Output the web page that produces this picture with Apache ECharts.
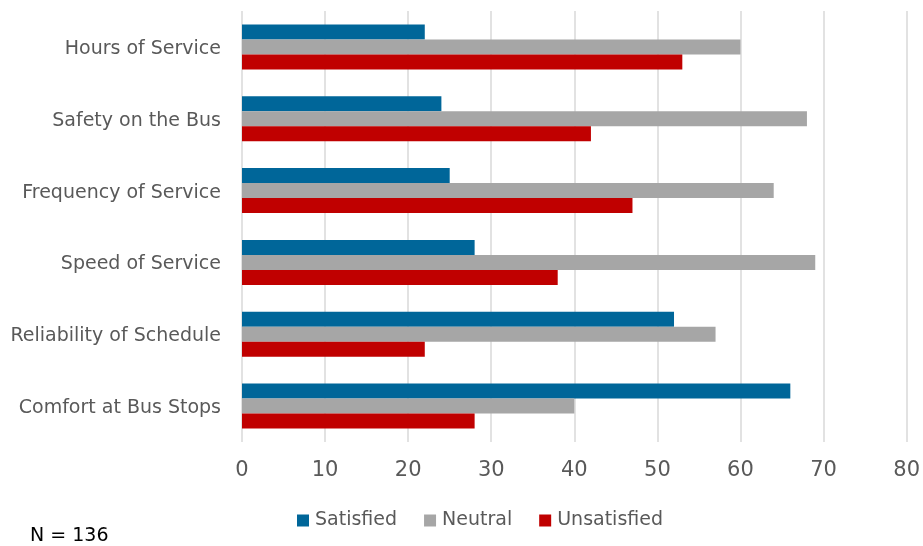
<!DOCTYPE html>
<html>
<head>
<meta charset="utf-8">
<script src="https://cdn.jsdelivr.net/npm/echarts@6/dist/echarts.min.js"></script>
<style>
  html, body { margin: 0; padding: 0; background: #fff; }
  #chart { width: 923px; height: 546px; }
</style>
</head>
<body>
<div id="chart"></div>
<script>
// Survey categories, top to bottom
const categories = [
  'Hours of Service',
  'Safety on the Bus',
  'Frequency of Service',
  'Speed of Service',
  'Reliability of Schedule',
  'Comfort at Bus Stops'
];
const satisfied   = [22, 24, 25, 28, 52, 66];
const neutral     = [60, 68, 64, 69, 57, 40];
const unsatisfied = [53, 42, 47, 38, 22, 28];
const xTicks = [0, 10, 20, 30, 40, 50, 60, 70, 80];

const FONT = '"DejaVu Sans", sans-serif';
const TEXT = '#595959';

const chart = echarts.init(document.getElementById('chart'), null, { renderer: 'canvas' });

function barSeries(name, data, color) {
  return {
    name: name,
    type: 'bar',
    data: data,
    barWidth: 15,
    barGap: '0%',
    itemStyle: { color: color },
    emphasis: { disabled: true }
  };
}

chart.setOption({
  animation: false,
  textStyle: { fontFamily: FONT },
  grid: { left: 242, right: 15, top: 11, bottom: 104, containLabel: false },
  xAxis: {
    type: 'value',
    min: xTicks[0],
    max: xTicks[xTicks.length - 1],
    interval: xTicks[1] - xTicks[0],
    axisLine: { show: false },
    axisTick: { show: false },
    splitLine: { show: true, lineStyle: { color: '#d9d9d9', width: 1.5 } },
    axisLabel: { color: TEXT, fontSize: 21, fontFamily: FONT, margin: 18 }
  },
  yAxis: {
    type: 'category',
    data: categories,
    inverse: true,
    axisLine: { show: false },
    axisTick: { show: false },
    axisLabel: {
      margin: 21,
      formatter: v => '{c|' + v + '}',
      rich: {
        c: { color: TEXT, fontSize: 19, fontFamily: FONT, lineHeight: 23, padding: [4, 0, 0, 0] }
      }
    }
  },
  legend: {
    bottom: 11,
    left: 292,
    itemWidth: 12,
    itemHeight: 12,
    itemGap: 27,
    icon: 'rect',
    textStyle: { color: TEXT, fontSize: 19, fontFamily: FONT, padding: [0, 0, 0, 1] },
    data: ['Satisfied', 'Neutral', 'Unsatisfied']
  },
  graphic: [{
    type: 'text',
    left: 30,
    top: 527,
    style: { text: 'N = 136', fill: '#000', font: '19px ' + FONT }
  }],
  series: [
    barSeries('Satisfied', satisfied, '#006699'),
    barSeries('Neutral', neutral, '#a6a6a6'),
    barSeries('Unsatisfied', unsatisfied, '#c00000')
  ]
});
</script>
</body>
</html>
